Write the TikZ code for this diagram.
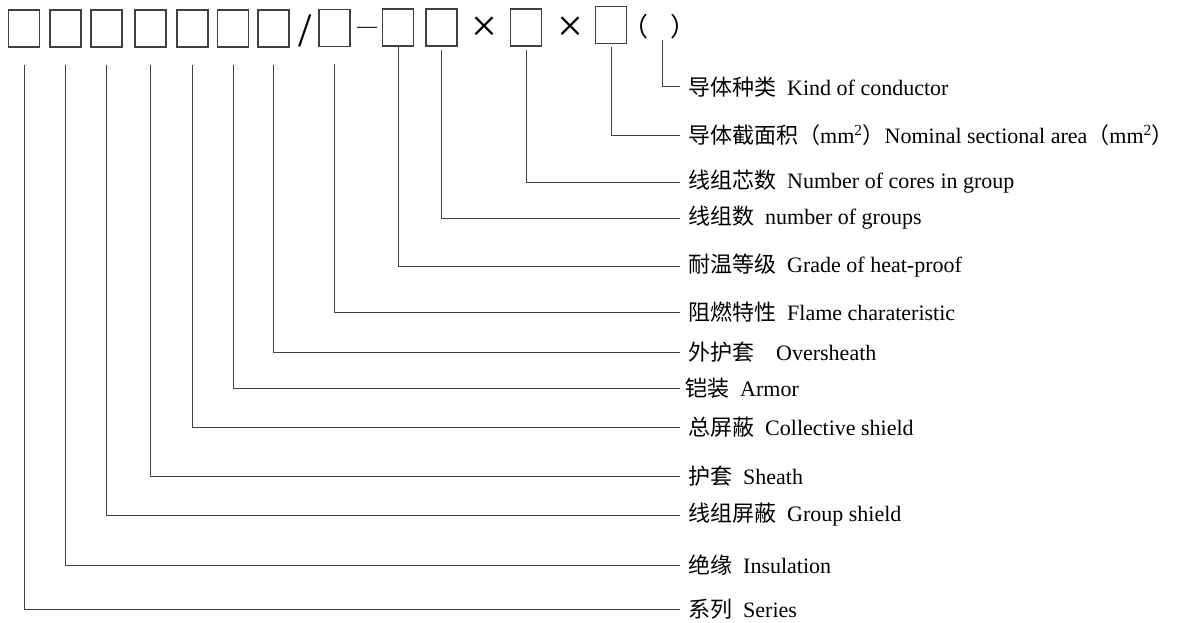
\documentclass[tikz,border=0pt]{standalone}
\usepackage{fontspec}
\setmainfont{Liberation Serif}
\newfontfamily\cjk{Noto Sans CJK SC}
\usetikzlibrary{calc}
\begin{document}
\begin{tikzpicture}[x=1pt,y=-1pt,
  cell/.style={draw=black!75, line width=1.2pt, minimum width=31pt, minimum height=37pt, inner sep=0pt},
  lbl/.style={anchor=west, inner xsep=8pt, inner ysep=0pt, font=\fontsize{22}{25}\selectfont},
  wire/.style={draw=black!75, line width=1pt},
  sym/.style={inner sep=0pt}]
\useasboundingbox (0,0) rectangle (1177,623);
% code boxes
\node[cell] (b1) at (24,28.5) {};
\node[cell] (b2) at (65.5,28.5) {};
\node[cell] (b3) at (106.5,28.5) {};
\node[cell] (b4) at (150.5,28.5) {};
\node[cell] (b5) at (192.5,28.5) {};
\node[cell] (b6) at (233,28.5) {};
\node[cell] (b7) at (273.5,28.5) {};
\node[cell] (b8) at (334.5,28) {};
\node[cell] (b9) at (398,27.5) {};
\node[cell] (b10) at (441.5,27.5) {};
\node[cell] (b11) at (526,27.5) {};
\node[cell] (b12) at (611,25) {};
% symbols
\node[sym, font=\fontsize{48}{48}\selectfont] (sl) at (305,31) {/};
\node[sym, font=\fontsize{20}{20}\selectfont] (da) at (367,30) {—};
\node[sym, font=\fontsize{46}{46}\selectfont] (x1) at (484,29) {×};
\node[sym, font=\fontsize{46}{46}\selectfont] (x2) at (570,29) {×};
\node[sym, font=\fontsize{26}{26}\selectfont\cjk] (pl) at (635,27) {（};
\node[sym, font=\fontsize{26}{26}\selectfont\cjk] (pr) at (683,27) {）};
% labels
\node[lbl] (l13) at (680,87) {{\cjk 导体种类}\enspace Kind of conductor};
\node[lbl] (l12) at (680,135) {{\cjk 导体截面积（}mm\textsuperscript{2}{\cjk ）}Nominal sectional area{\cjk （}mm\textsuperscript{2}{\cjk ）}};
\node[lbl] (l11) at (680,182) {{\cjk 线组芯数}\enspace Number of cores in group};
\node[lbl] (l10) at (680,218) {{\cjk 线组数}\enspace number of groups};
\node[lbl] (l9) at (680,266) {{\cjk 耐温等级}\enspace Grade of heat-proof};
\node[lbl] (l8) at (680,312) {{\cjk 阻燃特性}\enspace Flame charateristic};
\node[lbl] (l7) at (680,352) {{\cjk 外护套}\quad Oversheath};
\node[lbl, inner xsep=5pt] (l6) at (680,388) {{\cjk 铠装}\enspace Armor};
\node[lbl] (l5) at (680,427) {{\cjk 总屏蔽}\enspace Collective shield};
\node[lbl] (l4) at (680,476) {{\cjk 护套}\enspace Sheath};
\node[lbl] (l3) at (680,515) {{\cjk 线组屏蔽}\enspace Group shield};
\node[lbl] (l2) at (680,565) {{\cjk 绝缘}\enspace Insulation};
\node[lbl] (l1) at (680,609) {{\cjk 系列}\enspace Series};
% start points of the leaders
\foreach \i in {1,...,8} {\coordinate (s\i) at ($(b\i.south)+(0,17)$);}
\coordinate (s9) at (b9.south);
\foreach \i in {10,11,12} {\coordinate (s\i) at ($(b\i.south)+(0,3)$);}
\coordinate (s13) at ($(pl)!0.5!(pr)+(3,13)$);
% leaders
\foreach \i in {1,...,13} {\draw[wire] (s\i) |- (l\i.west);}
\end{tikzpicture}
\end{document}
